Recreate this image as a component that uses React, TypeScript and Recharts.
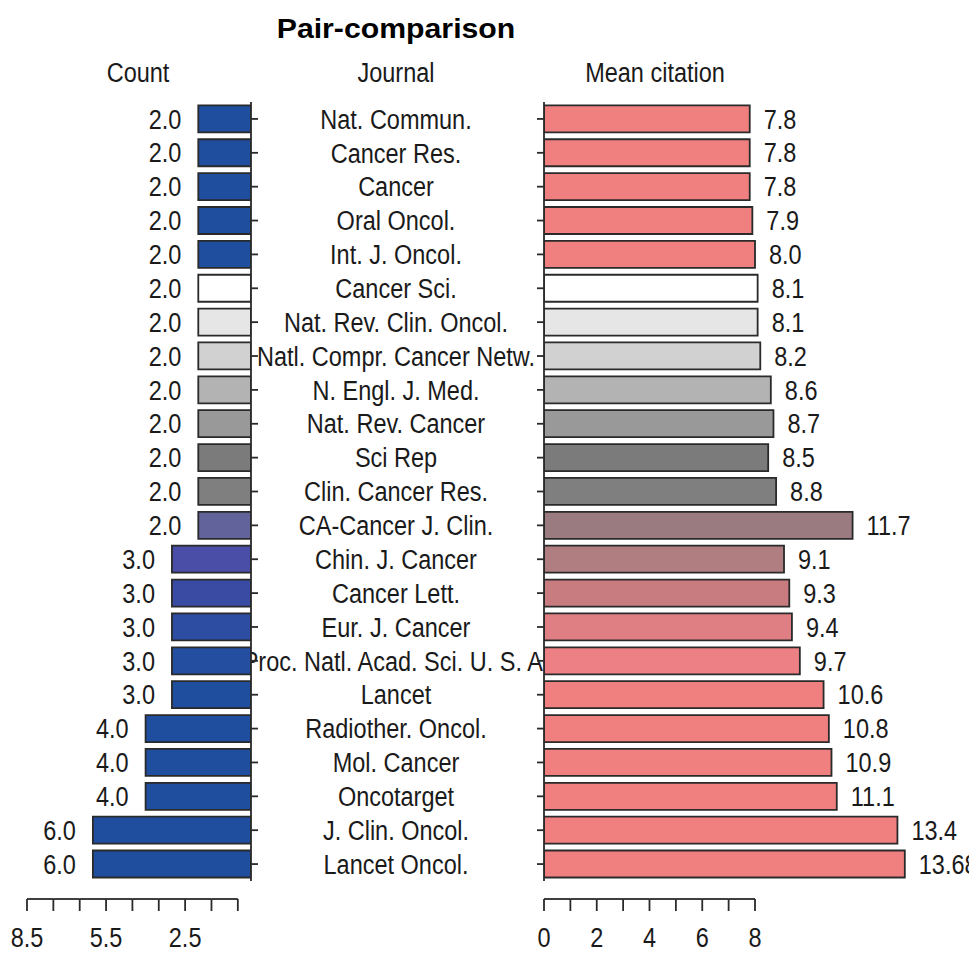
import { BarChart, Bar, XAxis, YAxis, Cell, LabelList } from "recharts";

const journals = [
  "Nat. Commun.",
  "Cancer Res.",
  "Cancer",
  "Oral Oncol.",
  "Int. J. Oncol.",
  "Cancer Sci.",
  "Nat. Rev. Clin. Oncol.",
  "Natl. Compr. Cancer Netw.",
  "N. Engl. J. Med.",
  "Nat. Rev. Cancer",
  "Sci Rep",
  "Clin. Cancer Res.",
  "CA-Cancer J. Clin.",
  "Chin. J. Cancer",
  "Cancer Lett.",
  "Eur. J. Cancer",
  "Proc. Natl. Acad. Sci. U. S. A.",
  "Lancet",
  "Radiother. Oncol.",
  "Mol. Cancer",
  "Oncotarget",
  "J. Clin. Oncol.",
  "Lancet Oncol.",
];

const counts = [2, 2, 2, 2, 2, 2, 2, 2, 2, 2, 2, 2, 2, 3, 3, 3, 3, 3, 4, 4, 4, 6, 6];

const meanCitations = [
  7.8, 7.8, 7.8, 7.9, 8.0, 8.1, 8.1, 8.2, 8.6, 8.7, 8.5, 8.8, 11.7, 9.1, 9.3, 9.4, 9.7, 10.6,
  10.8, 10.9, 11.1, 13.4, 13.68,
];

const citationLabels = [
  "7.8", "7.8", "7.8", "7.9", "8.0", "8.1", "8.1", "8.2", "8.6", "8.7", "8.5", "8.8", "11.7",
  "9.1", "9.3", "9.4", "9.7", "10.6", "10.8", "10.9", "11.1", "13.4", "13.68",
];

const countTicks = [0.5, 1.5, 2.5, 3.5, 4.5, 5.5, 6.5, 7.5, 8.5];
const countTickLabels = ["8.5", "5.5", "2.5"];
const citationTicks = [0, 1, 2, 3, 4, 5, 6, 7, 8];
const citationTickLabels = ["0", "2", "4", "6", "8"];

// bar fills, top row first
const countColors = [
  "#1F4E9F", "#1F4E9F", "#1F4E9F", "#1F4E9F", "#1F4E9F",
  "#FFFFFF", "#E6E6E6", "#D1D1D1", "#B3B3B3", "#999999", "#7B7B7B", "#7F7F7F",
  "#63639C", "#4A4EA6", "#3A4BA4", "#2C4DA2", "#244EA0",
  "#1F4E9F", "#1F4E9F", "#1F4E9F", "#1F4E9F", "#1F4E9F", "#1F4E9F",
];
const citationColors = [
  "#F08080", "#F08080", "#F08080", "#F08080", "#F08080",
  "#FFFFFF", "#E6E6E6", "#D1D1D1", "#B3B3B3", "#999999", "#7B7B7B", "#7F7F7F",
  "#9A7C80", "#B07D80", "#C97C80", "#E07F83", "#EC8084",
  "#F08080", "#F08080", "#F08080", "#F08080", "#F08080", "#F08080",
];

const rows = journals.map((journal, i) => ({
  journal,
  count: counts[i],
  citation: meanCitations[i],
  citationLabel: citationLabels[i],
}));

const W = 969;
const H = 954;
const INK = "#1a1a1a";
const LINE = "#2a2a2a";
const FONT = 27;
const SQUEEZE = 0.87;

const TOP = 102;
const X_AXIS_H = 30;
const BOTTOM = 43;
const AXIS_Y = 899;
const TICK_LEN = 12;
const LABEL_Y = 947;

const LEFT_X0 = 27;
const LEFT_Y_W = 20;
const LEFT_CHART_W = 271;
const LEFT_MAX = 8.5;
const LEFT_STEP = (LEFT_CHART_W - LEFT_X0 - LEFT_Y_W) / LEFT_MAX;

const RIGHT_X0 = 544;
const RIGHT_MARGIN = 3;
const RIGHT_MAX = 16;
const RIGHT_STEP = (W - RIGHT_X0 - RIGHT_MARGIN) / RIGHT_MAX;

const JOURNAL_CX = 396;
const GAP = "10%";

function NarrowText({ x, y, anchor, children }: any) {
  return (
    <text
      transform={`translate(${x},${y}) scale(${SQUEEZE},1)`}
      textAnchor={anchor}
      dy="0.36em"
      fontSize={FONT}
      fill={INK}
    >
      {children}
    </text>
  );
}

const makeBottomTick = (shown: string[], step: number, lastIndex: number) =>
  function BottomTick(props: any) {
    const { x, payload, index } = props;
    const label = String(payload.value);
    return (
      <g>
        {index < lastIndex && (
          <line x1={x} x2={x + step} y1={AXIS_Y} y2={AXIS_Y} stroke={LINE} strokeWidth={1.8} />
        )}
        <line x1={x} x2={x} y1={AXIS_Y} y2={AXIS_Y + TICK_LEN} stroke={LINE} strokeWidth={1.8} />
        {shown.includes(label) && (
          <text
            transform={`translate(${x},${LABEL_Y}) scale(${SQUEEZE},1)`}
            textAnchor="middle"
            fontSize={FONT}
            fill={INK}
          >
            {label}
          </text>
        )}
      </g>
    );
  };

const CountTick = makeBottomTick(countTickLabels, -LEFT_STEP, countTicks.length - 1);
const CitationTick = makeBottomTick(citationTickLabels, RIGHT_STEP, citationTicks.length - 1);

function JournalTick(props: any) {
  return (
    <NarrowText x={JOURNAL_CX} y={props.y} anchor="middle">
      {props.payload.value}
    </NarrowText>
  );
}

function barBox(p: any) {
  const b = p.viewBox ?? p;
  const x = Number(b.x);
  const w = Number(b.width);
  return {
    left: Math.min(x, x + w),
    right: Math.max(x, x + w),
    cy: Number(b.y) + Number(b.height) / 2,
  };
}

const layer = { position: "absolute" as const, left: 0, top: 0 };

export default function App() {
  return (
    <div
      style={{
        position: "absolute",
        left: 0,
        top: 0,
        width: W,
        height: H,
        background: "#fff",
        overflow: "hidden",
        fontFamily: "'Liberation Sans', Arial, sans-serif",
      }}
    >
      {/* journal names sit underneath both panels */}
      <div style={{ ...layer, zIndex: 1 }}>
        <BarChart
          width={W}
          height={H}
          data={rows}
          layout="vertical"
          barCategoryGap={GAP}
          margin={{ top: TOP, right: RIGHT_MARGIN, bottom: BOTTOM, left: 0 }}
        >
          <XAxis type="number" domain={[0, RIGHT_MAX]} height={X_AXIS_H} tick={false} axisLine={false} tickLine={false} />
          <YAxis
            type="category"
            dataKey="journal"
            width={RIGHT_X0}
            interval={0}
            tickLine={false}
            axisLine={false}
            tick={JournalTick}
          />
          <Bar dataKey="citation" fill="none" isAnimationActive={false} />
        </BarChart>
      </div>

      <div style={{ ...layer, zIndex: 2 }}>
        <BarChart
          width={LEFT_CHART_W}
          height={H}
          data={rows}
          layout="vertical"
          barCategoryGap={GAP}
          margin={{ top: TOP, right: 0, bottom: BOTTOM, left: LEFT_X0 }}
        >
          <XAxis
            type="number"
            domain={[0, LEFT_MAX]}
            reversed
            allowDataOverflow
            ticks={countTicks}
            interval={0}
            height={X_AXIS_H}
            axisLine={false}
            tickLine={false}
            tick={CountTick}
          />
          <YAxis
            type="category"
            dataKey="journal"
            orientation="right"
            width={LEFT_Y_W}
            interval={0}
            tickSize={7}
            tick={() => <g />}
            axisLine={{ stroke: LINE, strokeWidth: 1.8 }}
            tickLine={{ stroke: LINE, strokeWidth: 1.8 }}
          />
          <Bar dataKey="count" stroke={LINE} strokeWidth={1.8} isAnimationActive={false}>
            {rows.map((r, i) => (
              <Cell key={r.journal} fill={countColors[i]} />
            ))}
            <LabelList
              dataKey="count"
              content={(p: any) => {
                const b = barBox(p);
                return (
                  <NarrowText x={b.left - 17} y={b.cy} anchor="end">
                    {Number(p.value).toFixed(1)}
                  </NarrowText>
                );
              }}
            />
          </Bar>
        </BarChart>
      </div>

      <div style={{ ...layer, zIndex: 3 }}>
        <BarChart
          width={W}
          height={H}
          data={rows}
          layout="vertical"
          barCategoryGap={GAP}
          margin={{ top: TOP, right: RIGHT_MARGIN, bottom: BOTTOM, left: 0 }}
        >
          <XAxis
            type="number"
            domain={[0, RIGHT_MAX]}
            allowDataOverflow
            ticks={citationTicks}
            interval={0}
            height={X_AXIS_H}
            axisLine={false}
            tickLine={false}
            tick={CitationTick}
          />
          <YAxis
            type="category"
            dataKey="journal"
            width={RIGHT_X0}
            interval={0}
            tickSize={7}
            tick={() => <g />}
            axisLine={{ stroke: LINE, strokeWidth: 1.8 }}
            tickLine={{ stroke: LINE, strokeWidth: 1.8 }}
          />
          <Bar dataKey="citation" stroke={LINE} strokeWidth={1.8} isAnimationActive={false}>
            {rows.map((r, i) => (
              <Cell key={r.journal} fill={citationColors[i]} />
            ))}
            <LabelList
              dataKey="citationLabel"
              content={(p: any) => {
                const b = barBox(p);
                return (
                  <NarrowText x={b.right + 14} y={b.cy} anchor="start">
                    {p.value}
                  </NarrowText>
                );
              }}
            />
          </Bar>
        </BarChart>
      </div>

      <svg width={W} height={100} style={{ ...layer, zIndex: 4 }}>
        <text
          transform={`translate(${JOURNAL_CX},38) scale(1.12,1)`}
          textAnchor="middle"
          fontSize={27}
          fontWeight="bold"
          fill="#000"
        >
          Pair-comparison
        </text>
        <NarrowText x={138} y={72} anchor="middle">Count</NarrowText>
        <NarrowText x={JOURNAL_CX} y={72} anchor="middle">Journal</NarrowText>
        <NarrowText x={655} y={72} anchor="middle">Mean citation</NarrowText>
      </svg>
    </div>
  );
}
